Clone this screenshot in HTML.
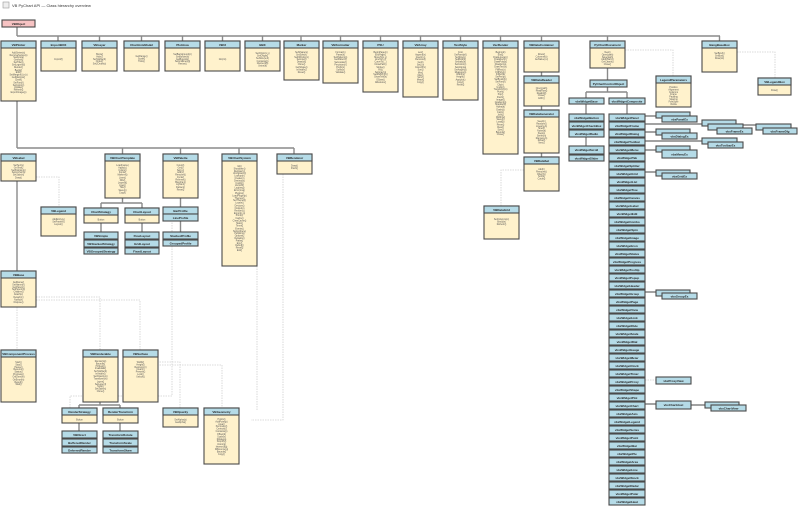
<!DOCTYPE html>
<html><head><meta charset="utf-8"><style>
html,body{margin:0;padding:0;background:#fff;}
svg{display:block}
.b{fill:#fff2cc;stroke:#4a4a4a;stroke-width:1.1}
.h{fill:#b5dbe7;stroke:#4a4a4a;stroke-width:1.1}
.p{fill:#f7c3c3;stroke:#4a4a4a;stroke-width:1.1}
.t{font:bold 3px "Liberation Sans",sans-serif;fill:#222;text-anchor:middle}
.m{font:2.3px "Liberation Sans",sans-serif;fill:#555;text-anchor:middle}
.c{stroke:#8a8a8a;stroke-width:1.4;fill:none}
.c2{stroke:#444;stroke-width:0.9;fill:none}
.d{stroke:#d0d0d0;stroke-width:0.8;stroke-dasharray:1.5 1;fill:none}
</style></head><body>
<svg width="799" height="506" viewBox="0 0 799 506" xmlns="http://www.w3.org/2000/svg">
<rect x="3" y="2" width="6" height="6" fill="#eee" stroke="#999" stroke-width="0.6"/>
<text x="12" y="7" style="font:4px 'Liberation Sans',sans-serif;fill:#333">VB PyChart API — Class hierarchy overview</text>

<!-- connectors -->
<path class="c" d="M17 27V36M17 36H720M58 36V41M99.5 36V41M141.5 36V41M182.5 36V41M222.5 36V41M262.5 36V41M301 36V41M340.5 36V41M380.5 36V41M420.5 36V41M460.5 36V41M500.5 36V41M541.5 36V41M607.5 36V41M719.5 36V41"/>
<path class="c" d="M541.5 72V76M541.5 106V110M541.5 153V157"/>
<path class="c" d="M607.5 68V80M607.5 87V92M586 92H627M586 92V98M627 92V98M586 104V114M586 137V146M627 104V114"/>
<path class="c" d="M17 101V148M17 148H294M122.5 148V154M180.5 148V154M239 148V154M294 148V154M17 181V271"/>
<path class="c" d="M122.5 198V203M101 203H142M101 203V208M142 203V208M101 223V232M142 223V232M180.5 198V207M180.5 221V232"/>
<path class="c" d="M100 402V405M79 405H120M79 405V408M120 405V408M79 423V431M120 423V431"/>
<path class="c2" d="M645 116H656M645 124H702M736 125H756M645 132H656M645 141H702M645 150H656M645 172H656M645 292H656M645 404H656M690 405H705"/>
<path class="d" d="M524 170H501V206M625 50H673V76M737 52H775V78M36 177H59V207M17 307V350M36 297H100V350M36 300H140V350M157 362H180V408M157 365H222V408M172 246V396H70V408M172 220V240M283 174V420H251M257 266V410M645 380H656"/>

<!-- root -->
<rect class="p" x="2" y="20" width="33" height="7"/><text class="t" x="18.5" y="25">VBObject</text>

<!-- top row -->
<g transform="translate(1,41)"><rect class="b" width="35" height="60"/><rect class="h" width="35" height="7"/><text class="t" x="17.5" y="5">VBPlotter</text><text class="m" x="17.5" y="10"><tspan x="17.5" dy="2.4">AddSeries(s)</tspan><tspan x="17.5" dy="2.4">RemoveSeries(s)</tspan><tspan x="17.5" dy="2.4">SetAxis(a)</tspan><tspan x="17.5" dy="2.4">GetAxis()</tspan><tspan x="17.5" dy="2.4">SetTitle(t)</tspan><tspan x="17.5" dy="2.4">SetLegend(l)</tspan><tspan x="17.5" dy="2.4">Render()</tspan><tspan x="17.5" dy="3">Begin()</tspan><tspan x="17.5" dy="2.4">End()</tspan><tspan x="17.5" dy="2.4">SetMargins(l,t,r,b)</tspan><tspan x="17.5" dy="2.4">GetMargins()</tspan><tspan x="17.5" dy="2.4">Clear()</tspan><tspan x="17.5" dy="3">SetFont(f)</tspan><tspan x="17.5" dy="2.4">SetColor(c)</tspan><tspan x="17.5" dy="2.4">Update()</tspan><tspan x="17.5" dy="2.4">Refresh()</tspan><tspan x="17.5" dy="2.4">ExportImage(p)</tspan></text></g>
<g transform="translate(41,41)"><rect class="b" width="35" height="30"/><rect class="h" width="35" height="7"/><text class="t" x="17.5" y="5">ImportBOX</text><text class="m" x="17.5" y="19">Import(f)</text></g>
<g transform="translate(82,41)"><rect class="b" width="35" height="30"/><rect class="h" width="35" height="7"/><text class="t" x="17.5" y="5">VBLayer</text><text class="m"><tspan x="17.5" y="14">Show()</tspan><tspan x="17.5" dy="2.4">Hide()</tspan><tspan x="17.5" dy="2.4">SetVisible(b)</tspan><tspan x="17.5" dy="2.4">Order()</tspan><tspan x="17.5" dy="2.4">SetZOrder(z)</tspan></text></g>
<g transform="translate(124,41)"><rect class="b" width="35" height="30"/><rect class="h" width="35" height="7"/><text class="t" x="17.5" y="5">ChartAxisModel</text><text class="m"><tspan x="17.5" y="16">GetRange()</tspan><tspan x="17.5" dy="2.4">Scale()</tspan><tspan x="17.5" dy="2.4">Ticks()</tspan></text></g>
<g transform="translate(165,41)"><rect class="b" width="35" height="30"/><rect class="h" width="35" height="7"/><text class="t" x="17.5" y="5">PlotArea</text><text class="m"><tspan x="17.5" y="14">SetBackground(c)</tspan><tspan x="17.5" dy="2.4">SetBorder(b)</tspan><tspan x="17.5" dy="2.4">GetBounds()</tspan><tspan x="17.5" dy="2.4">SetGridlines(g)</tspan><tspan x="17.5" dy="2.4">Resize()</tspan></text></g>
<g transform="translate(205,41)"><rect class="b" width="35" height="30"/><rect class="h" width="35" height="7"/><text class="t" x="17.5" y="5">VBUI</text><text class="m" x="17.5" y="19">Init(ctx)</text></g>
<g transform="translate(245,41)"><rect class="b" width="35" height="30"/><rect class="h" width="35" height="7"/><text class="t" x="17.5" y="5">BBX</text><text class="m"><tspan x="17.5" y="13">SetOrigin(x,y)</tspan><tspan x="17.5" dy="2.4">GetOrigin()</tspan><tspan x="17.5" dy="2.4">SetSize(w,h)</tspan><tspan x="17.5" dy="3">Contains(p)</tspan><tspan x="17.5" dy="2.4">Intersect(b)</tspan><tspan x="17.5" dy="2.4">Union(b)</tspan></text></g>
<g transform="translate(284,41)"><rect class="b" width="35" height="39"/><rect class="h" width="35" height="7"/><text class="t" x="17.5" y="5">Marker</text><text class="m"><tspan x="17.5" y="12">SetShape(s)</tspan><tspan x="17.5" dy="2.4">SetSize(n)</tspan><tspan x="17.5" dy="2.4">SetFillColor(c)</tspan><tspan x="17.5" dy="2.4">SetLine(l)</tspan><tspan x="17.5" dy="2.4">Draw(dc)</tspan><tspan x="17.5" dy="2.4">Clone()</tspan><tspan x="17.5" dy="3">GetShape()</tspan><tspan x="17.5" dy="2.4">IsVisible()</tspan><tspan x="17.5" dy="2.4">Reset()</tspan></text></g>
<g transform="translate(323,41)"><rect class="b" width="35" height="42"/><rect class="h" width="35" height="7"/><text class="t" x="17.5" y="5">VBFormatter</text><text class="m"><tspan x="17.5" y="12">Format(v)</tspan><tspan x="17.5" dy="2.4">Parse(s)</tspan><tspan x="17.5" dy="2.4">SetPattern(p)</tspan><tspan x="17.5" dy="2.4">GetPattern()</tspan><tspan x="17.5" dy="3">SetLocale(l)</tspan><tspan x="17.5" dy="2.4">Precision(n)</tspan><tspan x="17.5" dy="2.4">Prefix(s)</tspan><tspan x="17.5" dy="2.4">Suffix(s)</tspan><tspan x="17.5" dy="2.4">Validate()</tspan></text></g>
<g transform="translate(363,41)"><rect class="b" width="35" height="51"/><rect class="h" width="35" height="7"/><text class="t" x="17.5" y="5">PSU</text><text class="m"><tspan x="17.5" y="12">BeginPage(n)</tspan><tspan x="17.5" dy="2.4">EndPage()</tspan><tspan x="17.5" dy="2.4">MoveTo(x,y)</tspan><tspan x="17.5" dy="2.4">LineTo(x,y)</tspan><tspan x="17.5" dy="2.4">CurveTo(...)</tspan><tspan x="17.5" dy="2.4">ClosePath()</tspan><tspan x="17.5" dy="3">Stroke()</tspan><tspan x="17.5" dy="2.4">Fill()</tspan><tspan x="17.5" dy="2.4">SetGray(g)</tspan><tspan x="17.5" dy="2.4">SetRGB(r,g,b)</tspan><tspan x="17.5" dy="2.4">ShowText(s)</tspan><tspan x="17.5" dy="3">GSave()</tspan><tspan x="17.5" dy="2.4">GRestore()</tspan></text></g>
<g transform="translate(403,41)"><rect class="b" width="35" height="56"/><rect class="h" width="35" height="7"/><text class="t" x="17.5" y="5">VBArray</text><text class="m"><tspan x="17.5" y="12">Len()</tspan><tspan x="17.5" dy="2.4">Append(v)</tspan><tspan x="17.5" dy="2.4">Insert(i,v)</tspan><tspan x="17.5" dy="2.4">Remove(i)</tspan><tspan x="17.5" dy="3">Get(i)</tspan><tspan x="17.5" dy="2.4">Set(i,v)</tspan><tspan x="17.5" dy="2.4">IndexOf(v)</tspan><tspan x="17.5" dy="2.4">Sort()</tspan><tspan x="17.5" dy="3">Min()</tspan><tspan x="17.5" dy="2.4">Max()</tspan><tspan x="17.5" dy="2.4">Sum()</tspan><tspan x="17.5" dy="2.4">Mean()</tspan><tspan x="17.5" dy="2.4">Copy()</tspan></text></g>
<g transform="translate(443,41)"><rect class="b" width="35" height="59"/><rect class="h" width="35" height="7"/><text class="t" x="17.5" y="5">TextStyle</text><text class="m"><tspan x="17.5" y="12">Font</tspan><tspan x="17.5" dy="2.4">SetFamily(f)</tspan><tspan x="17.5" dy="2.4">SetSize(n)</tspan><tspan x="17.5" dy="2.4">SetBold(b)</tspan><tspan x="17.5" dy="2.4">SetItalic(b)</tspan><tspan x="17.5" dy="2.4">SetColor(c)</tspan><tspan x="17.5" dy="3">SetAlign(a)</tspan><tspan x="17.5" dy="2.4">SetAngle(d)</tspan><tspan x="17.5" dy="2.4">Measure(s)</tspan><tspan x="17.5" dy="2.4">Width(s)</tspan><tspan x="17.5" dy="2.4">Height()</tspan><tspan x="17.5" dy="3">Apply(dc)</tspan><tspan x="17.5" dy="2.4">Copy()</tspan><tspan x="17.5" dy="2.4">Reset()</tspan></text></g>
<g transform="translate(483,41)"><rect class="b" width="35" height="113"/><rect class="h" width="35" height="7"/><text class="t" x="17.5" y="5">VecRender</text><text class="m"><tspan x="17.5" y="12">Begin(dc)</tspan><tspan x="17.5" dy="2.4">End()</tspan><tspan x="17.5" dy="2.4">DrawLine(a,b)</tspan><tspan x="17.5" dy="2.4">DrawRect(r)</tspan><tspan x="17.5" dy="2.4">DrawPoly(p)</tspan><tspan x="17.5" dy="2.4">DrawArc(a)</tspan><tspan x="17.5" dy="2.4">DrawText(s)</tspan><tspan x="17.5" dy="3">FillRect(r)</tspan><tspan x="17.5" dy="2.4">FillPoly(p)</tspan><tspan x="17.5" dy="2.4">FillArc(a)</tspan><tspan x="17.5" dy="2.4">SetPen(p)</tspan><tspan x="17.5" dy="2.4">SetBrush(b)</tspan><tspan x="17.5" dy="2.4">SetFont(f)</tspan><tspan x="17.5" dy="3">Clip(r)</tspan><tspan x="17.5" dy="2.4">Unclip()</tspan><tspan x="17.5" dy="2.4">Transform(m)</tspan><tspan x="17.5" dy="2.4">Push()</tspan><tspan x="17.5" dy="2.4">Pop()</tspan><tspan x="17.5" dy="3">Flush()</tspan><tspan x="17.5" dy="2.4">Image(i)</tspan><tspan x="17.5" dy="2.4">Gradient(g)</tspan><tspan x="17.5" dy="2.4">Shadow(s)</tspan><tspan x="17.5" dy="2.4">Alpha(a)</tspan><tspan x="17.5" dy="3">Dash(d)</tspan><tspan x="17.5" dy="2.4">Cap(c)</tspan><tspan x="17.5" dy="2.4">Join(j)</tspan><tspan x="17.5" dy="2.4">Width(w)</tspan><tspan x="17.5" dy="2.4">Save(p)</tspan><tspan x="17.5" dy="2.4">Load(p)</tspan><tspan x="17.5" dy="3">Reset()</tspan><tspan x="17.5" dy="2.4">Clear()</tspan><tspan x="17.5" dy="2.4">Size()</tspan><tspan x="17.5" dy="2.4">Bounds()</tspan><tspan x="17.5" dy="2.4">Close()</tspan></text></g>
<g transform="translate(524,41)"><rect class="b" width="35" height="31"/><rect class="h" width="35" height="7"/><text class="t" x="17.5" y="5">VBDataContainer</text><text class="m"><tspan x="17.5" y="14">Rows()</tspan><tspan x="17.5" dy="2.4">Columns(n)</tspan><tspan x="17.5" dy="2.4">GetValue(r,c)</tspan></text></g>
<g transform="translate(524,76)"><rect class="b" width="35" height="30"/><rect class="h" width="35" height="7"/><text class="t" x="17.5" y="5">VBDataReader</text><text class="m"><tspan x="17.5" y="13">Open(path)</tspan><tspan x="17.5" dy="2.4">ReadRow()</tspan><tspan x="17.5" dy="2.4">ReadAll()</tspan><tspan x="17.5" dy="2.4">Close()</tspan><tspan x="17.5" dy="3">EOF()</tspan></text></g>
<g transform="translate(524,110)"><rect class="b" width="35" height="43"/><rect class="h" width="35" height="7"/><text class="t" x="17.5" y="5">VBDataGenerator</text><text class="m"><tspan x="17.5" y="12">Seed(n)</tspan><tspan x="17.5" dy="2.4">Random()</tspan><tspan x="17.5" dy="2.4">Linear(a,b)</tspan><tspan x="17.5" dy="2.4">Sine(f)</tspan><tspan x="17.5" dy="2.4">Noise(a)</tspan><tspan x="17.5" dy="2.4">Step(s)</tspan><tspan x="17.5" dy="2.4">Series(n)</tspan><tspan x="17.5" dy="2.4">Range(a,b)</tspan><tspan x="17.5" dy="2.4">Reset()</tspan><tspan x="17.5" dy="2.4">Next()</tspan></text></g>
<g transform="translate(524,157)"><rect class="b" width="35" height="34"/><rect class="h" width="35" height="7"/><text class="t" x="17.5" y="5">VBDataSet</text><text class="m"><tspan x="17.5" y="13">Add(r)</tspan><tspan x="17.5" dy="2.4">Remove(r)</tspan><tspan x="17.5" dy="2.4">Filter(fn)</tspan><tspan x="17.5" dy="2.4">Sort(k)</tspan><tspan x="17.5" dy="2.4">Count()</tspan></text></g>
<g transform="translate(484,206)"><rect class="b" width="35" height="33"/><rect class="h" width="35" height="7"/><text class="t" x="17.5" y="5">VBDataGrid</text><text class="m"><tspan x="17.5" y="14">SetColumns(c)</tspan><tspan x="17.5" dy="2.4">Bind(ds)</tspan><tspan x="17.5" dy="2.4">Refresh()</tspan></text></g>
<g transform="translate(590,41)"><rect class="b" width="35" height="27"/><rect class="h" width="35" height="7"/><text class="t" x="17.5" y="5">PyChartDocument</text><text class="m"><tspan x="17.5" y="12">New()</tspan><tspan x="17.5" dy="2.4">Open(path)</tspan><tspan x="17.5" dy="2.4">Save(path)</tspan><tspan x="17.5" dy="2.4">AddChart(c)</tspan><tspan x="17.5" dy="2.4">GetCharts()</tspan><tspan x="17.5" dy="2.4">Close()</tspan></text></g>
<g transform="translate(702,41)"><rect class="b" width="35" height="31"/><rect class="h" width="35" height="7"/><text class="t" x="17.5" y="5">BangBaseBox</text><text class="m"><tspan x="17.5" y="13">SetBox(b)</tspan><tspan x="17.5" dy="2.4">GetBox()</tspan><tspan x="17.5" dy="2.4">Draw(dc)</tspan></text></g>
<g transform="translate(758,78)"><rect class="b" width="33" height="17"/><rect class="h" width="33" height="7"/><text class="t" x="16.5" y="5">VBLegendBox</text><text class="m" x="16.5" y="13">Draw()</text></g>
<g transform="translate(656,76)"><rect class="b" width="35" height="31"/><rect class="h" width="35" height="7"/><text class="t" x="17.5" y="5">LegendParameters</text><text class="m"><tspan x="17.5" y="12">Position</tspan><tspan x="17.5" dy="2.4">Alignment</tspan><tspan x="17.5" dy="2.4">Columns</tspan><tspan x="17.5" dy="2.4">Frame</tspan><tspan x="17.5" dy="2.4">Padding</tspan><tspan x="17.5" dy="2.4">Spacing</tspan><tspan x="17.5" dy="2.4">FontStyle</tspan><tspan x="17.5" dy="2.4">Visible</tspan></text></g>
<g transform="translate(590,80)"><rect class="h" width="37" height="7"/><text class="t" x="18.5" y="5">PyChartControlObject</text></g>
<g transform="translate(569,98)"><rect class="h" width="35" height="6"/><text class="t" x="17.5" y="4.3">vbxWidgetBase</text></g>
<g transform="translate(609,98)"><rect class="h" width="36" height="6"/><text class="t" x="18" y="4.3">vbxWidgetComposite</text></g>
<g class="t">
<rect class="h" x="569" y="114" width="35" height="7"/><text x="586.5" y="119">vbxWidgetButton</text>
<rect class="h" x="569" y="122" width="35" height="7"/><text x="586.5" y="127">vbxWidgetCheckBox</text>
<rect class="h" x="569" y="130" width="35" height="7"/><text x="586.5" y="135">vbxWidgetRadio</text>
<rect class="h" x="569" y="146" width="35" height="8"/><text x="586.5" y="151">vbxWidgetScroll</text>
<rect class="h" x="569" y="155" width="35" height="6"/><text x="586.5" y="159.5">vbxWidgetSlider</text>
</g>
<!-- long column -->
<g class="t">
<rect class="h" x="609" y="114" width="36" height="7"/><text x="627" y="119">vbxWidgetPanel</text>
<rect class="h" x="609" y="122" width="36" height="7"/><text x="627" y="127">vbxWidgetFrame</text>
<rect class="h" x="609" y="130" width="36" height="7"/><text x="627" y="135">vbxWidgetDialog</text>
<rect class="h" x="609" y="138" width="36" height="7"/><text x="627" y="143">vbxWidgetToolbar</text>
<rect class="h" x="609" y="146" width="36" height="7"/><text x="627" y="151">vbxWidgetMenu</text>
<rect class="h" x="609" y="154" width="36" height="7"/><text x="627" y="159">vbxWidgetTab</text>
<rect class="h" x="609" y="162" width="36" height="7"/><text x="627" y="167">vbxWidgetSplitter</text>
<rect class="h" x="609" y="170" width="36" height="7"/><text x="627" y="175">vbxWidgetGrid</text>
<rect class="h" x="609" y="178" width="36" height="7"/><text x="627" y="183">vbxWidgetList</text>
<rect class="h" x="609" y="186" width="36" height="7"/><text x="627" y="191">vbxWidgetTree</text>
<rect class="h" x="609" y="194" width="36" height="7"/><text x="627" y="199">vbxWidgetCanvas</text>
<rect class="h" x="609" y="202" width="36" height="7"/><text x="627" y="207">vbxWidgetLabel</text>
<rect class="h" x="609" y="210" width="36" height="7"/><text x="627" y="215">vbxWidgetEdit</text>
<rect class="h" x="609" y="218" width="36" height="7"/><text x="627" y="223">vbxWidgetCombo</text>
<rect class="h" x="609" y="226" width="36" height="7"/><text x="627" y="231">vbxWidgetSpin</text>
<rect class="h" x="609" y="234" width="36" height="7"/><text x="627" y="239">vbxWidgetImage</text>
<rect class="h" x="609" y="242" width="36" height="7"/><text x="627" y="247">vbxWidgetIcon</text>
<rect class="h" x="609" y="250" width="36" height="7"/><text x="627" y="255">vbxWidgetStatus</text>
<rect class="h" x="609" y="258" width="36" height="7"/><text x="627" y="263">vbxWidgetProgress</text>
<rect class="h" x="609" y="266" width="36" height="7"/><text x="627" y="271">vbxWidgetTooltip</text>
<rect class="h" x="609" y="274" width="36" height="7"/><text x="627" y="279">vbxWidgetPopup</text>
<rect class="h" x="609" y="282" width="36" height="7"/><text x="627" y="287">vbxWidgetHeader</text>
<rect class="h" x="609" y="290" width="36" height="7"/><text x="627" y="295">vbxWidgetGroup</text>
<rect class="h" x="609" y="298" width="36" height="7"/><text x="627" y="303">vbxWidgetPage</text>
<rect class="h" x="609" y="306" width="36" height="7"/><text x="627" y="311">vbxWidgetView</text>
<rect class="h" x="609" y="314" width="36" height="7"/><text x="627" y="319">vbxWidgetLink</text>
<rect class="h" x="609" y="322" width="36" height="7"/><text x="627" y="327">vbxWidgetRule</text>
<rect class="h" x="609" y="330" width="36" height="7"/><text x="627" y="335">vbxWidgetScale</text>
<rect class="h" x="609" y="338" width="36" height="7"/><text x="627" y="343">vbxWidgetDial</text>
<rect class="h" x="609" y="346" width="36" height="7"/><text x="627" y="351">vbxWidgetGauge</text>
<rect class="h" x="609" y="354" width="36" height="7"/><text x="627" y="359">vbxWidgetMeter</text>
<rect class="h" x="609" y="362" width="36" height="7"/><text x="627" y="367">vbxWidgetClock</text>
<rect class="h" x="609" y="370" width="36" height="7"/><text x="627" y="375">vbxWidgetTimer</text>
<rect class="h" x="609" y="378" width="36" height="7"/><text x="627" y="383">vbxWidgetProxy</text>
<rect class="h" x="609" y="386" width="36" height="7"/><text x="627" y="391">vbxWidgetShape</text>
<rect class="h" x="609" y="394" width="36" height="7"/><text x="627" y="399">vbxWidgetPlot</text>
<rect class="h" x="609" y="402" width="36" height="7"/><text x="627" y="407">vbxWidgetChart</text>
<rect class="h" x="609" y="410" width="36" height="7"/><text x="627" y="415">vbxWidgetAxis</text>
<rect class="h" x="609" y="418" width="36" height="7"/><text x="627" y="423">vbxWidgetLegend</text>
<rect class="h" x="609" y="426" width="36" height="7"/><text x="627" y="431">vbxWidgetSeries</text>
<rect class="h" x="609" y="434" width="36" height="7"/><text x="627" y="439">vbxWidgetPoint</text>
<rect class="h" x="609" y="442" width="36" height="7"/><text x="627" y="447">vbxWidgetBar</text>
<rect class="h" x="609" y="450" width="36" height="7"/><text x="627" y="455">vbxWidgetPie</text>
<rect class="h" x="609" y="458" width="36" height="7"/><text x="627" y="463">vbxWidgetArea</text>
<rect class="h" x="609" y="466" width="36" height="7"/><text x="627" y="471">vbxWidgetLine</text>
<rect class="h" x="609" y="474" width="36" height="7"/><text x="627" y="479">vbxWidgetStock</text>
<rect class="h" x="609" y="482" width="36" height="7"/><text x="627" y="487">vbxWidgetRadar</text>
<rect class="h" x="609" y="490" width="36" height="7"/><text x="627" y="495">vbxWidgetPolar</text>
<rect class="h" x="609" y="498" width="36" height="7"/><text x="627" y="503">vbxWidgetHeat</text>
</g>
<!-- side boxes -->
<g class="t">
<rect class="h" x="656" y="112" width="34" height="6"/><rect class="h" x="662" y="116" width="35" height="6"/><text x="679.5" y="120.5">vbxPanelEx</text>
<rect class="h" x="702" y="120" width="34" height="6"/><rect class="h" x="708" y="124" width="35" height="6"/><rect class="h" x="717" y="128" width="35" height="6"/><text x="734.5" y="132.5">vbxFrameEx</text>
<rect class="h" x="756" y="124" width="35" height="6"/><rect class="h" x="763" y="128" width="34" height="6"/><text x="780" y="132.5">vbxFrameDlg</text>
<rect class="h" x="656" y="129" width="34" height="6"/><rect class="h" x="662" y="133" width="35" height="6"/><text x="679.5" y="137.5">vbxDialogEx</text>
<rect class="h" x="702" y="138" width="35" height="6"/><rect class="h" x="708" y="142" width="35" height="6"/><text x="725.5" y="146.5">vbxToolbarEx</text>
<rect class="h" x="656" y="146" width="34" height="6"/><rect class="h" x="662" y="150" width="35" height="8"/><text x="679.5" y="155.5">vbxMenuEx</text>
<rect class="h" x="656" y="170" width="34" height="6"/><rect class="h" x="662" y="173" width="35" height="6"/><text x="679.5" y="177.5">vbxGridEx</text>
<rect class="h" x="656" y="290" width="34" height="6"/><rect class="h" x="662" y="293" width="35" height="6"/><text x="679.5" y="297.5">vbxGroupEx</text>
<rect class="h" x="656" y="377" width="35" height="7"/><text x="673.5" y="382">vbxProxyView</text>
<rect class="h" x="656" y="401" width="35" height="8"/><text x="673.5" y="406">vbxChartHost</text>
<rect class="h" x="705" y="402" width="34" height="6"/><rect class="h" x="711" y="405" width="35" height="6"/><text x="728.5" y="409.5">vbxChartView</text>
</g>

<!-- row 2 -->
<g transform="translate(1,154)"><rect class="b" width="35" height="27"/><rect class="h" width="35" height="7"/><text class="t" x="17.5" y="5">VBLabel</text><text class="m"><tspan x="17.5" y="12">SetText(s)</tspan><tspan x="17.5" dy="2.4">GetText()</tspan><tspan x="17.5" dy="2.4">SetPosition(p)</tspan><tspan x="17.5" dy="2.4">SetAnchor(a)</tspan><tspan x="17.5" dy="2.4">SetStyle(s)</tspan><tspan x="17.5" dy="3">Draw()</tspan></text></g>
<g transform="translate(105,154)"><rect class="b" width="35" height="44"/><rect class="h" width="35" height="7"/><text class="t" x="17.5" y="5">VBChartTemplate</text><text class="m"><tspan x="17.5" y="12">Load(name)</tspan><tspan x="17.5" dy="2.4">Apply(c)</tspan><tspan x="17.5" dy="2.4">Colors()</tspan><tspan x="17.5" dy="2.4">Fonts()</tspan><tspan x="17.5" dy="2.4">Markers()</tspan><tspan x="17.5" dy="3">Lines()</tspan><tspan x="17.5" dy="2.4">Fills()</tspan><tspan x="17.5" dy="2.4">Legend()</tspan><tspan x="17.5" dy="2.4">Axes()</tspan><tspan x="17.5" dy="2.4">Title()</tspan><tspan x="17.5" dy="3">Save(p)</tspan><tspan x="17.5" dy="2.4">Copy()</tspan></text></g>
<g transform="translate(163,154)"><rect class="b" width="35" height="44"/><rect class="h" width="35" height="7"/><text class="t" x="17.5" y="5">VBPalette</text><text class="m"><tspan x="17.5" y="12">Count()</tspan><tspan x="17.5" dy="2.4">Get(i)</tspan><tspan x="17.5" dy="2.4">Set(i,c)</tspan><tspan x="17.5" dy="2.4">Add(c)</tspan><tspan x="17.5" dy="2.4">Remove(i)</tspan><tspan x="17.5" dy="2.4">Cycle()</tspan><tspan x="17.5" dy="2.4">Reverse()</tspan><tspan x="17.5" dy="2.4">Blend(a,b)</tspan><tspan x="17.5" dy="2.4">Lighten()</tspan><tspan x="17.5" dy="3">Darken()</tspan><tspan x="17.5" dy="2.4">Reset()</tspan></text></g>
<g transform="translate(222,154)"><rect class="b" width="35" height="112"/><rect class="h" width="35" height="7"/><text class="t" x="17.5" y="5">VBChartSystem</text><text class="m"><tspan x="17.5" y="13">Init()</tspan><tspan x="17.5" dy="2.4">Shutdown()</tspan><tspan x="17.5" dy="2.4">Register(c)</tspan><tspan x="17.5" dy="2.4">Unregister(c)</tspan><tspan x="17.5" dy="2.4">Lookup(n)</tspan><tspan x="17.5" dy="2.4">Create(n)</tspan><tspan x="17.5" dy="2.4">Destroy(o)</tspan><tspan x="17.5" dy="2.4">Config()</tspan><tspan x="17.5" dy="2.4">Version()</tspan><tspan x="17.5" dy="2.4">Log(msg)</tspan><tspan x="17.5" dy="2.4">Error(msg)</tspan><tspan x="17.5" dy="3">Plugins()</tspan><tspan x="17.5" dy="2.4">LoadPlugin(p)</tspan><tspan x="17.5" dy="2.4">Themes()</tspan><tspan x="17.5" dy="2.4">SetTheme(t)</tspan><tspan x="17.5" dy="2.4">Locale()</tspan><tspan x="17.5" dy="3">Devices()</tspan><tspan x="17.5" dy="2.4">Output(o)</tspan><tspan x="17.5" dy="2.4">Render(c)</tspan><tspan x="17.5" dy="2.4">Export(c,p)</tspan><tspan x="17.5" dy="2.4">Print(c)</tspan><tspan x="17.5" dy="3">Cache()</tspan><tspan x="17.5" dy="2.4">ClearCache()</tspan><tspan x="17.5" dy="2.4">Stats()</tspan><tspan x="17.5" dy="2.4">Timer()</tspan><tspan x="17.5" dy="3">Events()</tspan><tspan x="17.5" dy="2.4">Subscribe(e)</tspan><tspan x="17.5" dy="2.4">Publish(e)</tspan><tspan x="17.5" dy="2.4">Options()</tspan><tspan x="17.5" dy="2.4">Defaults()</tspan><tspan x="17.5" dy="2.4">Paths()</tspan><tspan x="17.5" dy="2.4">Env()</tspan><tspan x="17.5" dy="2.4">Debug()</tspan><tspan x="17.5" dy="2.4">Reset()</tspan><tspan x="17.5" dy="2.4">Exit()</tspan></text></g>
<g transform="translate(277,154)"><rect class="b" width="35" height="20"/><rect class="h" width="35" height="7"/><text class="t" x="17.5" y="5">VBRenderer</text><text class="m"><tspan x="17.5" y="12.5">Draw()</tspan><tspan x="17.5" dy="2.4">Flush()</tspan></text></g>
<g transform="translate(41,207)"><rect class="b" width="35" height="29"/><rect class="h" width="35" height="7"/><text class="t" x="17.5" y="5">VBLegend</text><text class="m"><tspan x="17.5" y="13">AddEntry(e)</tspan><tspan x="17.5" dy="2.4">SetFrame(f)</tspan><tspan x="17.5" dy="2.4">Layout()</tspan></text></g>
<g transform="translate(84,208)"><rect class="b" width="34" height="15"/><rect class="h" width="34" height="7"/><text class="t" x="17" y="5">ChartStrategy</text><text class="m" x="17" y="12.5">Button</text></g>
<g transform="translate(125,208)"><rect class="b" width="34" height="15"/><rect class="h" width="34" height="7"/><text class="t" x="17" y="5">ChartLayout</text><text class="m" x="17" y="12.5">Button</text></g>
<g class="t">
<rect class="h" x="84" y="232" width="34" height="7"/><text x="101" y="237">VBSimple</text>
<rect class="h" x="84" y="240" width="34" height="7"/><text x="101" y="245">VBStackedStrategy</text>
<rect class="h" x="84" y="248" width="34" height="6"/><text x="101" y="252.5">VBGroupedStrategy</text>
<rect class="h" x="125" y="232" width="34" height="7"/><text x="142" y="237">FlowLayout</text>
<rect class="h" x="125" y="240" width="34" height="7"/><text x="142" y="245">GridLayout</text>
<rect class="h" x="125" y="248" width="34" height="6"/><text x="142" y="252.5">FixedLayout</text>
<rect class="h" x="163" y="207" width="35" height="7"/><text x="180.5" y="212">BarProfile</text>
<rect class="h" x="163" y="214" width="35" height="7"/><text x="180.5" y="219">LineProfile</text>
<rect class="h" x="163" y="232" width="35" height="7"/><text x="180.5" y="237">StackedProfile</text>
<rect class="h" x="163" y="240" width="35" height="6"/><text x="180.5" y="244.5">GroupedProfile</text>
</g>

<!-- row 3/4 -->
<g transform="translate(1,271)"><rect class="b" width="35" height="36"/><rect class="h" width="35" height="7"/><text class="t" x="17.5" y="5">VBBase</text><text class="m"><tspan x="17.5" y="12">GetName()</tspan><tspan x="17.5" dy="2.4">SetName(n)</tspan><tspan x="17.5" dy="2.4">GetParent()</tspan><tspan x="17.5" dy="2.4">SetParent(p)</tspan><tspan x="17.5" dy="2.4">Children()</tspan><tspan x="17.5" dy="2.4">Attach(c)</tspan><tspan x="17.5" dy="3">Detach(c)</tspan><tspan x="17.5" dy="2.4">Notify(e)</tspan><tspan x="17.5" dy="2.4">Dispose()</tspan></text></g>
<g transform="translate(1,350)"><rect class="b" width="35" height="52"/><rect class="h" width="35" height="7"/><text class="t" x="17.5" y="5">VBComponentProcess</text><text class="m"><tspan x="17.5" y="13">Start()</tspan><tspan x="17.5" dy="2.4">Stop()</tspan><tspan x="17.5" dy="2.4">Pause()</tspan><tspan x="17.5" dy="2.4">Resume()</tspan><tspan x="17.5" dy="2.4">Status()</tspan><tspan x="17.5" dy="2.4">Progress()</tspan><tspan x="17.5" dy="2.4">OnDone(fn)</tspan><tspan x="17.5" dy="3">OnError(fn)</tspan><tspan x="17.5" dy="2.4">Result()</tspan><tspan x="17.5" dy="2.4">Wait()</tspan></text></g>
<g transform="translate(83,350)"><rect class="b" width="35" height="52"/><rect class="h" width="35" height="7"/><text class="t" x="17.5" y="5">VBRenderable</text><text class="m"><tspan x="17.5" y="12">Render(dc)</tspan><tspan x="17.5" dy="2.4">Bounds()</tspan><tspan x="17.5" dy="2.4">HitTest(p)</tspan><tspan x="17.5" dy="2.4">Invalidate()</tspan><tspan x="17.5" dy="3">SetVisible(b)</tspan><tspan x="17.5" dy="2.4">IsVisible()</tspan><tspan x="17.5" dy="2.4">SetOpacity(o)</tspan><tspan x="17.5" dy="2.4">Transform(m)</tspan><tspan x="17.5" dy="3">Layer()</tspan><tspan x="17.5" dy="2.4">SetLayer(l)</tspan><tspan x="17.5" dy="2.4">Style()</tspan><tspan x="17.5" dy="2.4">SetStyle(s)</tspan><tspan x="17.5" dy="2.4">Clone()</tspan></text></g>
<g transform="translate(123,350)"><rect class="b" width="35" height="52"/><rect class="h" width="35" height="7"/><text class="t" x="17.5" y="5">VBSurface</text><text class="m"><tspan x="17.5" y="13">Width()</tspan><tspan x="17.5" dy="2.4">Height()</tspan><tspan x="17.5" dy="2.4">Resize(w,h)</tspan><tspan x="17.5" dy="2.4">Clear(c)</tspan><tspan x="17.5" dy="2.4">Present()</tspan><tspan x="17.5" dy="2.4">Lock()</tspan><tspan x="17.5" dy="2.4">Unlock()</tspan></text></g>
<g transform="translate(62,408)"><rect class="b" width="35" height="15"/><rect class="h" width="35" height="7"/><text class="t" x="17.5" y="5">RenderStrategy</text><text class="m" x="17.5" y="12.5">Button</text></g>
<g transform="translate(103,408)"><rect class="b" width="35" height="15"/><rect class="h" width="35" height="7"/><text class="t" x="17.5" y="5">RenderTransform</text><text class="m" x="17.5" y="12.5">Button</text></g>
<g class="t">
<rect class="h" x="62" y="431" width="35" height="7"/><text x="79.5" y="436">VBDirect</text>
<rect class="h" x="62" y="439" width="35" height="7"/><text x="79.5" y="444">BufferedRender</text>
<rect class="h" x="62" y="447" width="35" height="6"/><text x="79.5" y="451.5">DeferredRender</text>
<rect class="h" x="103" y="431" width="35" height="7"/><text x="120.5" y="436">TransformRotate</text>
<rect class="h" x="103" y="439" width="35" height="7"/><text x="120.5" y="444">TransformScale</text>
<rect class="h" x="103" y="447" width="35" height="6"/><text x="120.5" y="451.5">TransformSkew</text>
</g>
<g transform="translate(163,408)"><rect class="b" width="35" height="19"/><rect class="h" width="35" height="7"/><text class="t" x="17.5" y="5">VBOpacity</text><text class="m"><tspan x="17.5" y="12.5">SetAlpha(a)</tspan><tspan x="17.5" dy="2.4">GetAlpha()</tspan></text></g>
<g transform="translate(204,408)"><rect class="b" width="35" height="56"/><rect class="h" width="35" height="7"/><text class="t" x="17.5" y="5">VBGeometry</text><text class="m"><tspan x="17.5" y="12">Points()</tspan><tspan x="17.5" dy="2.4">AddPoint(p)</tspan><tspan x="17.5" dy="2.4">Area()</tspan><tspan x="17.5" dy="2.4">Perimeter()</tspan><tspan x="17.5" dy="2.4">Centroid()</tspan><tspan x="17.5" dy="2.4">Contains(p)</tspan><tspan x="17.5" dy="3">Offset(d)</tspan><tspan x="17.5" dy="2.4">Scale(s)</tspan><tspan x="17.5" dy="2.4">Rotate(a)</tspan><tspan x="17.5" dy="2.4">Simplify()</tspan><tspan x="17.5" dy="3">Union(g)</tspan><tspan x="17.5" dy="2.4">Intersect(g)</tspan><tspan x="17.5" dy="2.4">Difference(g)</tspan><tspan x="17.5" dy="2.4">Bounds()</tspan><tspan x="17.5" dy="2.4">Copy()</tspan></text></g>
</svg>
</body></html>
